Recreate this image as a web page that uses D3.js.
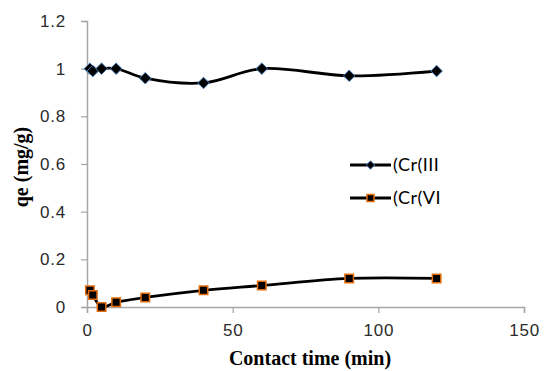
<!DOCTYPE html>
<html>
<head>
<meta charset="utf-8">
<script src="https://cdn.jsdelivr.net/npm/d3@7"></script>
<style>
  body { margin: 0; background: #fff; }
  svg { display: block; }
</style>
</head>
<body>
<svg id="chart" width="544" height="371"></svg>
<script>
const times = [1, 2, 5, 10, 20, 40, 60, 90, 120]
const cr3 = [1.0, 0.99, 1.0, 1.0, 0.96, 0.94, 1.0, 0.97, 0.99]
const cr6 = [0.07, 0.05, 0.0, 0.02, 0.04, 0.07, 0.09, 0.12, 0.12]
const xTicks = [0, 50, 100, 150]
const yTicks = [0, 0.2, 0.4, 0.6, 0.8, 1, 1.2]
const seriesNames = ['(Cr(III', '(Cr(VI']

const svg = d3.select('#chart')
const plotLeft = 87, plotRight = 524, plotTop = 21, plotBottom = 307

const x = d3.scaleLinear().domain([0, 150]).range([plotLeft, plotRight])
const y = d3.scaleLinear().domain([0, 1.2]).range([plotBottom, plotTop])

const axisColor = '#a6a6a6'
const labelColor = '#2b2b2b'

// axes
const xAxis = svg.append('g')
  .attr('transform', `translate(0,${plotBottom})`)
  .call(d3.axisBottom(x).tickValues(xTicks).tickSize(6).tickPadding(11).tickFormat(d3.format('d')))
const yAxis = svg.append('g')
  .attr('transform', `translate(${plotLeft},0)`)
  .call(d3.axisLeft(y).tickValues(yTicks).tickSize(6).tickPadding(15).tickFormat(d => d === 0 || d === 1 ? d : d3.format('.1f')(d)))

;[xAxis, yAxis].forEach(a => {
  a.select('.domain').attr('stroke', axisColor).attr('stroke-width', 1.5)
  a.selectAll('.tick line').attr('stroke', axisColor).attr('stroke-width', 1.2)
  a.selectAll('.tick text')
    .attr('fill', labelColor)
    .style('font-family', 'Liberation Sans, Arial, sans-serif')
    .style('font-size', '17px')
    .style('letter-spacing', '0.8px')
})

// lines
const line = d3.line()
  .x(d => x(d[0]))
  .y(d => y(d[1]))
  .curve(d3.curveCatmullRom.alpha(0.5))

const s3 = times.map((t, i) => [t, cr3[i]])
const s6 = times.map((t, i) => [t, cr6[i]])

svg.append('path').datum(s3).attr('d', line)
  .attr('fill', 'none').attr('stroke', '#000').attr('stroke-width', 2.8)
svg.append('path').datum(s6).attr('d', line)
  .attr('fill', 'none').attr('stroke', '#000').attr('stroke-width', 2.8)

const diamond = d3.symbol().type(d3.symbolDiamond2).size(85)
const square = d3.symbol().type(d3.symbolSquare).size(72)

function diamondMarks(g, data) {
  g.selectAll('path.dia')
    .data(data)
    .join('path')
    .attr('class', 'dia')
    .attr('d', diamond)
    .attr('transform', d => `translate(${x(d[0])},${y(d[1])})`)
    .attr('fill', '#000')
    .attr('stroke', '#4a7ebb')
    .attr('stroke-width', 1)
}
function squareMarks(g, data) {
  g.selectAll('path.sq')
    .data(data)
    .join('path')
    .attr('class', 'sq')
    .attr('d', square)
    .attr('transform', d => `translate(${x(d[0])},${y(d[1])})`)
    .attr('fill', '#000')
    .attr('stroke', '#e46c0a')
    .attr('stroke-width', 1.5)
}

diamondMarks(svg.append('g'), s3)
squareMarks(svg.append('g'), s6)

// legend
const legend = svg.append('g').attr('transform', 'translate(350,165)')
const rowGap = 33
seriesNames.forEach((name, i) => {
  const row = legend.append('g').attr('transform', `translate(0,${i * rowGap})`)
  row.append('line').attr('x1', 0).attr('x2', 41).attr('y1', 0).attr('y2', 0)
    .attr('stroke', '#000').attr('stroke-width', 2.8)
  const mark = row.append('path')
    .attr('transform', 'translate(20.5,0)')
    .attr('fill', '#000')
  if (i === 0) {
    mark.attr('d', d3.symbol().type(d3.symbolDiamond2).size(45)).attr('stroke', '#4a7ebb').attr('stroke-width', 1)
  } else {
    mark.attr('d', d3.symbol().type(d3.symbolSquare).size(50)).attr('stroke', '#e46c0a').attr('stroke-width', 1.5)
  }
  row.append('text')
    .attr('x', 43)
    .attr('y', 0)
    .attr('dy', '0.36em')
    .attr('fill', '#000')
    .style('font-family', 'Lato, Open Sans, sans-serif')
    .style('font-size', '18px')
    .style('letter-spacing', '0.5px')
    .text(name)
})

// axis titles
svg.append('text')
  .attr('x', 310)
  .attr('y', 365)
  .attr('text-anchor', 'middle')
  .style('font-family', 'Liberation Serif, Times New Roman, serif')
  .style('font-weight', 'bold')
  .style('font-size', '20px')
  .text('Contact time (min)')

svg.append('text')
  .attr('transform', 'translate(28,167) rotate(-90)')
  .attr('text-anchor', 'middle')
  .style('font-family', 'Liberation Serif, Times New Roman, serif')
  .style('font-weight', 'bold')
  .style('font-size', '20px')
  .text('qe (mg/g)')
</script>
</body>
</html>
